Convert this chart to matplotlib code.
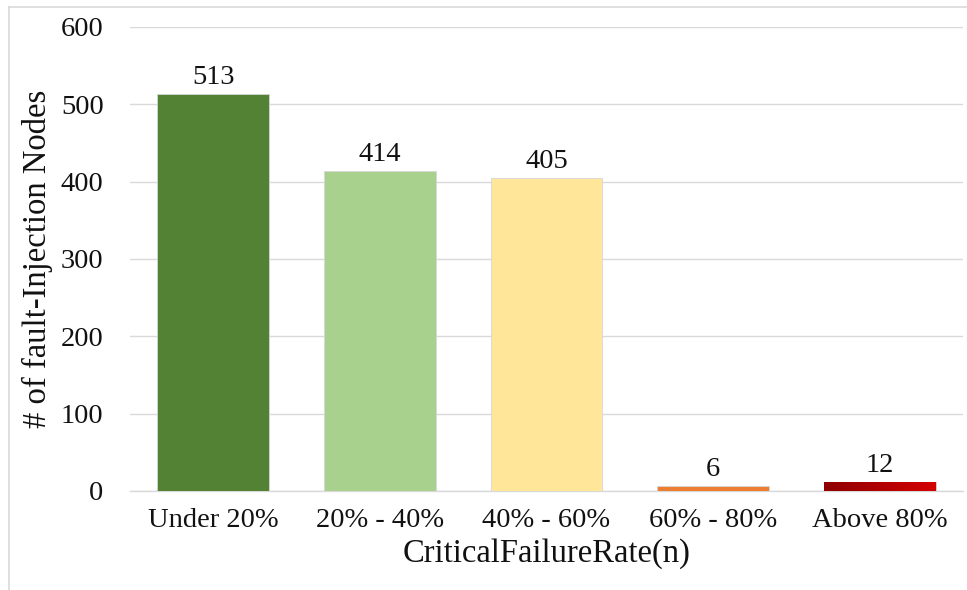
import matplotlib
matplotlib.use("Agg")
import matplotlib.pyplot as plt
import numpy as np
from matplotlib.colors import LinearSegmentedColormap
from matplotlib.lines import Line2D

categories = ["Under 20%", "20% - 40%", "40% - 60%", "60% - 80%", "Above 80%"]
counts = [513, 414, 405, 6, 12]
bar_colors = ["#548235", "#A9D18E", "#FFE699", "#ED7D31", "#C00000"]
y_ticks = [0, 100, 200, 300, 400, 500, 600]

plt.rcParams["font.family"] = ["Liberation Serif", "DejaVu Serif"]

fig = plt.figure(figsize=(9.67, 5.90), dpi=100)
ax = fig.add_axes([130 / 967, 99 / 590, 833 / 967, 464 / 590])

x = np.arange(len(categories))
bars = ax.bar(x, counts, width=0.67, color=bar_colors,
              edgecolor="#d6d6d6", linewidth=0.6, zorder=3)

# shaded fill for the last bar (dark red to bright red)
last = bars[-1]
grad = np.linspace(0, 1, 256).reshape(1, -1)
cmap = LinearSegmentedColormap.from_list("redshade", ["#8E0000", "#D40000"])
img = ax.imshow(grad, cmap=cmap, aspect="auto", zorder=4,
                extent=[last.get_x(), last.get_x() + last.get_width(),
                        0, last.get_height()])
img.set_clip_path(last)

for b, v in zip(bars, counts):
    ax.annotate(str(v), (b.get_x() + b.get_width() / 2, v),
                xytext=(0, 3), textcoords="offset points",
                ha="center", va="bottom", fontsize=20.5, color="#111111")

ax.set_xlim(-0.5, len(categories) - 0.5)
ax.set_ylim(0, 600)
ax.set_yticks(y_ticks)
ax.set_xticks(x)
ax.set_xticklabels(categories)
ax.tick_params(axis="both", length=0, labelsize=20.5, colors="#111111")
ax.tick_params(axis="y", pad=19)
ax.tick_params(axis="x", pad=12)

ax.grid(axis="y", color="#d9d9d9", linewidth=1.0, zorder=0)
ax.set_axisbelow(True)
for side in ["top", "right", "left"]:
    ax.spines[side].set_visible(False)
ax.spines["bottom"].set_color("#d9d9d9")
ax.spines["bottom"].set_linewidth(1.0)

ax.set_xlabel("CriticalFailureRate(n)", fontsize=23.5, color="#111111", labelpad=4)
ax.set_ylabel("# of fault-Injection Nodes", fontsize=23.5, color="#111111", labelpad=6)

# chart area frame
fig.add_artist(Line2D([8.5 / 967, 1.0], [1 - 6.5 / 590, 1 - 6.5 / 590],
                      transform=fig.transFigure, color="#d9d9d9", linewidth=1.2))
fig.add_artist(Line2D([8.5 / 967, 8.5 / 967], [0.0, 1 - 6.5 / 590],
                      transform=fig.transFigure, color="#d9d9d9", linewidth=1.2))

fig.savefig("out.png", dpi=100)
